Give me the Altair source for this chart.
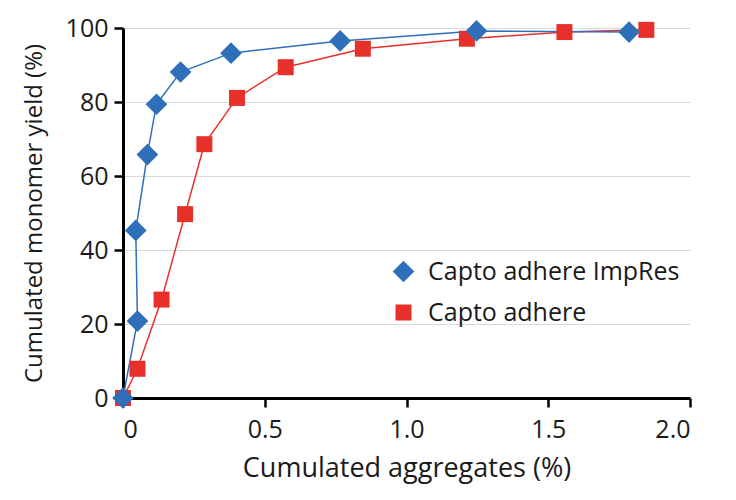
import altair as alt
import pandas as pd

series_names = ["Capto adhere ImpRes", "Capto adhere"]

impres_x = [0.0, 0.051, 0.045, 0.086, 0.118, 0.203, 0.381, 0.766, 1.247, 1.785]
impres_y = [0.0, 20.8, 45.3, 65.8, 79.4, 88.1, 93.2, 96.5, 99.2, 98.9]

adhere_x = [0.0, 0.051, 0.136, 0.219, 0.287, 0.402, 0.574, 0.846, 1.213, 1.557, 1.846]
adhere_y = [0.0, 7.9, 26.6, 49.7, 68.6, 81.1, 89.4, 94.4, 97.1, 98.9, 99.5]

rows = []
for i, (x, y) in enumerate(zip(adhere_x, adhere_y)):
    rows.append({"series": series_names[1], "x": x, "y": y, "order": i})
for i, (x, y) in enumerate(zip(impres_x, impres_y)):
    rows.append({"series": series_names[0], "x": x, "y": y, "order": i})
df = pd.DataFrame(rows)

FONT = "Open Sans"
TXT = "#1a1a1a"
colors = ["#2f6fba", "#e8302a"]

def leg():
    return alt.Legend(title=None, orient="none", legendX=268, legendY=231,
                      labelFontSize=25, labelFont=FONT, labelColor=TXT, labelLimit=500,
                      rowPadding=15, labelOffset=12, symbolStrokeWidth=0,
                      symbolOpacity=1)

cscale = alt.Scale(domain=series_names, range=colors)
shscale = alt.Scale(domain=series_names, range=["diamond", "square"])
szscale = alt.Scale(domain=series_names, range=[470, 256])

xenc = alt.X("x:Q", scale=alt.Scale(domain=[0, 2.0], nice=False),
             axis=alt.Axis(title="Cumulated aggregates (%)", values=[0, 0.5, 1.0, 1.5, 2.0],
                           labelExpr="datum.value == 0 ? '0' : format(datum.value, '.1f')",
                           grid=False, titlePadding=13, labelPadding=10, titleFontSize=27))
yenc = alt.Y("y:Q", scale=alt.Scale(domain=[0, 100], nice=False),
             axis=alt.Axis(title="Cumulated monomer yield (%)", values=[0, 20, 40, 60, 80, 100],
                           grid=True, titlePadding=19, labelPadding=6, titleFontSize=24))

base = alt.Chart(df)
lines = base.mark_line(strokeWidth=1.5).encode(
    x=xenc, y=yenc, color=alt.Color("series:N", scale=cscale, legend=leg()),
    detail="series:N", order="order:Q")
pts = base.mark_point(filled=True, opacity=1).encode(
    x="x:Q", y="y:Q",
    color=alt.Color("series:N", scale=cscale, legend=leg()),
    shape=alt.Shape("series:N", scale=shscale, legend=leg()),
    size=alt.Size("series:N", scale=szscale, legend=leg()),
    order=alt.Order("series:N", sort="ascending"))

chart = alt.layer(lines, pts).properties(
    width=567, height=370,
    padding={"left": 14, "top": 8, "right": 10, "bottom": 5},
    background="white",
).configure_view(stroke=None).configure_axis(
    labelFont=FONT, titleFont=FONT, labelFontSize=25,
    labelColor=TXT, titleColor=TXT, titleFontWeight="normal",
    domainColor="black", domainWidth=3, tickColor="black", tickWidth=2.5, tickSize=9,
    gridColor="#d9d9d9", gridWidth=1.2,
)

chart.save("out.html", embed_options={"renderer": "svg", "actions": False})
